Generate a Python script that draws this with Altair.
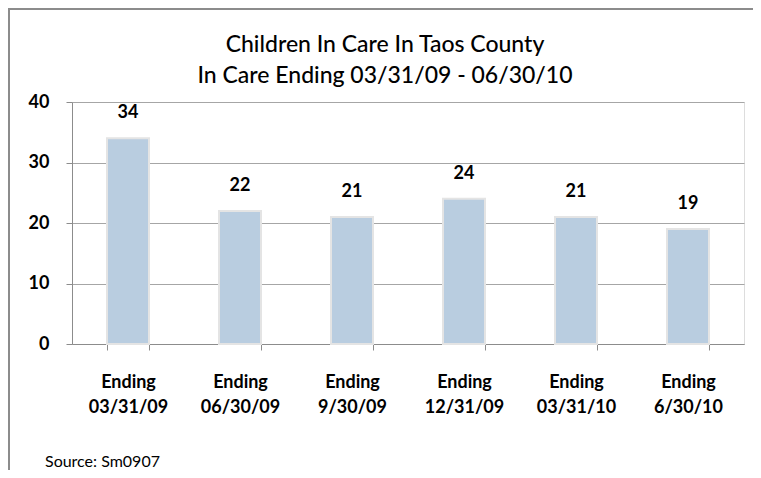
import altair as alt
import pandas as pd

categories = ["Ending\n03/31/09", "Ending\n06/30/09", "Ending\n9/30/09",
              "Ending\n12/31/09", "Ending\n03/31/10", "Ending\n6/30/10"]
values = [34, 22, 21, 24, 21, 19]
title_lines = ["Children In Care In Taos County", "In Care Ending 03/31/09 - 06/30/10"]
source_text = "Source: Sm0907"

FONT = "Lato"
df = pd.DataFrame({"cat": categories, "val": values})
one = pd.DataFrame({"k": [0]})

x = alt.X("cat:N", sort=categories, title=None,
          scale=alt.Scale(paddingInner=0.625, paddingOuter=0.3125),
          axis=alt.Axis(labelAngle=0, labelExpr="split(datum.label, '\\n')",
                        labelFont=FONT, labelFontSize=18, labelFontWeight="bold",
                        labelColor="black", labelLineHeight=25, labelPadding=23,
                        labelBaseline="top",
                        tickBand="extent", tickSize=6, tickColor="#8C8C8C",
                        domainColor="#8C8C8C", grid=False))
y = alt.Y("val:Q", title=None,
          scale=alt.Scale(domain=[0, 40]),
          axis=alt.Axis(values=[0, 10, 20, 30, 40], labelFont=FONT, labelFontSize=18,
                        labelFontWeight="bold", labelColor="black", labelPadding=17,
                        tickSize=6, tickColor="#8C8C8C", domainColor="#8C8C8C",
                        gridColor="#A6A6A6", gridWidth=1.2))

base = alt.Chart(df)
bars = base.mark_bar(color="#B9CDE0", stroke="#E4E4E4", strokeWidth=2).encode(x=x, y=y)
labels = base.mark_text(font=FONT, fontSize=18, fontWeight="bold", color="black",
                        dy=-25, baseline="middle").encode(
    x=alt.X("cat:N", sort=categories), y="val:Q", text="val:Q")

t1 = alt.Chart(pd.DataFrame({"t": [title_lines[0]]})).mark_text(
    font=FONT, fontSize=23, fontWeight=500, color="black", baseline="middle", align="center").encode(
    x=alt.value(313), y=alt.value(-57), text="t:N")
t2 = alt.Chart(pd.DataFrame({"t": [title_lines[1]]})).mark_text(
    font=FONT, fontSize=23, fontWeight=500, color="black", baseline="middle", align="center").encode(
    x=alt.value(313), y=alt.value(-26), text="t:N")
src = alt.Chart(pd.DataFrame({"t": [source_text]})).mark_text(
    font=FONT, fontSize=16, color="black", baseline="middle", align="left").encode(
    x=alt.value(-27), y=alt.value(360), text="t:N")

frame_left = alt.Chart(one).mark_rule(color="#8C8C8C", strokeWidth=2).encode(
    x=alt.value(-63), x2=alt.value(-63), y=alt.value(-94), y2=alt.value(368))
frame_top = alt.Chart(one).mark_rule(color="#8C8C8C", strokeWidth=2).encode(
    x=alt.value(-64), x2=alt.value(700), y=alt.value(-93), y2=alt.value(-93))

chart = alt.layer(frame_left, frame_top, bars, labels, t1, t2, src).properties(
    width=672, height=242,
    autosize=alt.AutoSizeParams(type="none"),
    padding={"left": 64, "top": 94, "right": 9, "bottom": 126},
).configure_view(stroke=None).configure(background="white")

chart.save("out.html", embed_options={"renderer": "svg", "actions": False})
